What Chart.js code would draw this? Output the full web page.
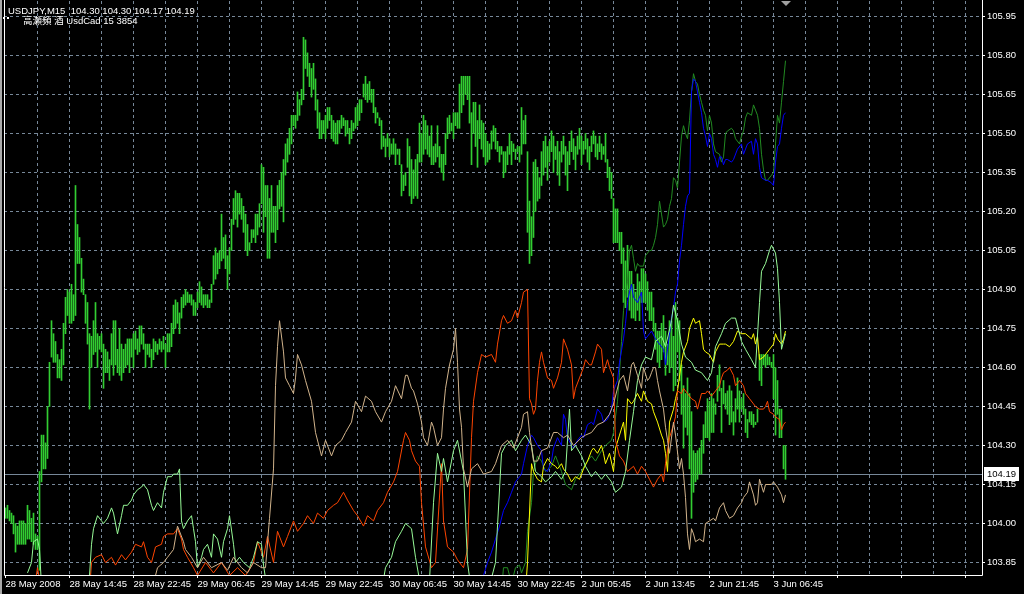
<!DOCTYPE html>
<html>
<head>
<meta charset="utf-8">
<script src="https://cdn.jsdelivr.net/npm/chart.js@4.4.1/dist/chart.umd.min.js"></script>
<style>
  html, body { margin: 0; padding: 0; background: #000; }
  canvas { display: block; }
</style>
</head>
<body>
<canvas id="chart" width="1024" height="594"></canvas>
<script>
// header texts
const symbolTitle = 'USDJPY,M15  104.30 104.30 104.17 104.19';
const indicatorTitle = '高瀬頻 酒 UsdCad 15 3854';
const lastPrice = 104.19;

// time axis labels, one every 32 bars (8 hours of M15)
const timeLabels = ['28 May 2008', '28 May 14:45', '28 May 22:45', '29 May 06:45', '29 May 14:45',
    '29 May 22:45', '30 May 06:45', '30 May 14:45', '30 May 22:45', '2 Jun 05:45', '2 Jun 13:45',
    '2 Jun 21:45', '3 Jun 06:45'];
const priceTicks = [103.85, 104.00, 104.15, 104.30, 104.45, 104.60, 104.75, 104.90, 105.05,
    105.20, 105.35, 105.50, 105.65, 105.80, 105.95];

// price bars, high / low
const barHigh = [
    104.06,104.07,104.05,104.04,104.03,104.00,103.99,104.01,104.01,104.01,
    104.00,104.07,104.05,104.02,104.04,103.96,103.95,104.20,104.34,104.34,
    104.31,104.45,104.62,104.78,104.73,104.70,104.65,104.63,104.67,104.77,
    104.87,104.90,104.89,104.92,104.88,105.30,105.15,105.10,105.02,104.94,
    104.88,104.85,104.73,104.72,104.78,104.85,104.73,104.72,104.73,104.69,
    104.67,104.66,104.63,104.73,104.78,104.78,104.67,104.75,104.69,104.67,
    104.69,104.71,104.71,104.71,104.73,104.74,104.71,104.76,104.76,104.73,
    104.69,104.69,104.69,104.67,104.71,104.70,104.69,104.71,104.70,104.72,
    104.69,104.73,104.73,104.77,104.84,104.86,104.85,104.81,104.87,104.88,
    104.90,104.89,104.88,104.88,104.86,104.85,104.89,104.93,104.91,104.88,
    104.88,104.88,104.86,104.92,105.03,105.06,105.04,105.05,105.19,105.10,
    105.11,105.03,105.06,105.17,105.25,105.28,105.27,105.27,105.25,105.22,
    105.19,105.15,105.08,105.13,105.13,105.19,105.19,105.23,105.38,105.37,
    105.30,105.30,105.25,105.30,105.22,105.22,105.30,105.32,105.35,105.40,
    105.46,105.48,105.52,105.57,105.57,105.57,105.66,105.63,105.67,105.87,
    105.86,105.81,105.77,105.75,105.77,105.71,105.63,105.58,105.55,105.55,
    105.57,105.60,105.60,105.57,105.55,105.54,105.55,105.55,105.57,105.56,
    105.55,105.55,105.52,105.55,105.54,105.60,105.61,105.63,105.63,105.69,
    105.72,105.69,105.70,105.67,105.67,105.60,105.58,105.56,105.55,105.49,
    105.48,105.50,105.48,105.46,105.48,105.46,105.44,105.44,105.38,105.34,
    105.35,105.48,105.45,105.40,105.36,105.40,105.42,105.54,105.50,105.57,
    105.55,105.53,105.49,105.53,105.45,105.46,105.53,105.45,105.42,105.42,
    105.50,105.56,105.57,105.54,105.58,105.58,105.58,105.69,105.72,105.72,
    105.72,105.72,105.72,105.58,105.62,105.62,105.55,105.61,105.55,105.54,
    105.50,105.47,105.46,105.51,105.53,105.52,105.47,105.45,105.45,105.43,
    105.43,105.45,105.50,105.47,105.46,105.44,105.45,105.45,105.60,105.55,
    105.57,105.43,105.24,105.18,105.39,105.40,105.37,105.33,105.43,105.47,
    105.49,105.45,105.47,105.51,105.49,105.45,105.47,105.43,105.47,105.49,
    105.45,105.43,105.47,105.51,105.48,105.45,105.49,105.52,105.49,105.47,
    105.50,105.48,105.45,105.49,105.51,105.49,105.46,105.49,105.46,105.45,
    105.50,105.40,105.37,105.35,105.25,105.21,105.21,105.12,105.12,105.06,
    105.01,105.07,104.97,104.97,104.92,104.89,104.96,104.93,104.98,104.98,
    104.96,104.93,104.89,104.89,104.83,104.77,104.74,104.74,104.77,104.80,
    104.74,104.69,104.78,104.78,104.72,104.85,104.79,104.78,104.61,104.53,
    104.50,104.56,104.50,104.43,104.28,104.27,104.28,104.29,104.32,104.38,
    104.43,104.48,104.47,104.50,104.48,104.46,104.57,104.61,104.52,104.55,
    104.50,104.51,104.53,104.51,104.43,104.48,104.56,104.51,104.48,104.50,
    104.44,104.40,104.43,104.43,104.42,104.39,104.44,104.65,104.65,104.65,
    104.65,104.65,104.64,104.62,104.65,104.60,104.55,104.44,104.44,104.30,
    104.30
];
const barLow = [
    104.02,104.02,104.01,104.00,103.96,103.89,103.92,103.92,103.92,103.92,
    103.92,103.94,103.94,103.93,103.92,103.90,103.90,103.82,104.16,104.21,
    104.21,104.25,104.45,104.64,104.62,104.62,104.56,104.56,104.55,104.61,
    104.73,104.80,104.77,104.77,104.78,104.80,105.00,105.00,104.89,104.88,
    104.77,104.69,104.44,104.60,104.65,104.66,104.60,104.67,104.66,104.52,
    104.58,104.58,104.55,104.61,104.57,104.61,104.58,104.57,104.55,104.58,
    104.60,104.61,104.58,104.64,104.60,104.67,104.65,104.66,104.69,104.67,
    104.60,104.65,104.64,104.60,104.63,104.66,104.65,104.67,104.66,104.67,
    104.60,104.66,104.66,104.68,104.73,104.75,104.77,104.73,104.79,104.83,
    104.84,104.85,104.85,104.84,104.80,104.80,104.83,104.85,104.84,104.83,
    104.84,104.83,104.83,104.85,104.92,104.94,104.96,104.98,105.01,105.02,
    104.98,104.90,104.96,105.05,105.15,105.17,105.14,105.19,105.17,105.12,
    105.05,105.03,105.05,105.08,105.10,105.08,105.11,105.14,105.23,105.12,
    105.18,105.02,105.02,105.12,105.12,105.08,105.13,105.21,105.22,105.16,
    105.34,105.39,105.42,105.46,105.53,105.52,105.55,105.57,105.61,105.63,
    105.75,105.72,105.68,105.64,105.67,105.59,105.52,105.48,105.48,105.50,
    105.48,105.52,105.55,105.48,105.47,105.46,105.46,105.50,105.52,105.53,
    105.49,105.50,105.46,105.48,105.51,105.52,105.53,105.55,105.58,105.64,
    105.63,105.62,105.63,105.62,105.58,105.54,105.56,105.53,105.44,105.45,
    105.41,105.45,105.41,105.42,105.42,105.38,105.42,105.38,105.26,105.28,
    105.30,105.37,105.26,105.23,105.25,105.26,105.25,105.39,105.39,105.42,
    105.44,105.42,105.41,105.38,105.38,105.39,105.41,105.37,105.35,105.32,
    105.38,105.48,105.50,105.51,105.48,105.53,105.52,105.52,105.58,105.61,
    105.65,105.63,105.54,105.38,105.50,105.45,105.37,105.48,105.44,105.41,
    105.38,105.39,105.40,105.44,105.47,105.44,105.43,105.39,105.42,105.33,
    105.35,105.38,105.42,105.38,105.43,105.40,105.43,105.39,105.42,105.46,
    105.46,105.12,105.00,105.03,105.10,105.20,105.24,105.25,105.30,105.34,
    105.37,105.32,105.39,105.43,105.35,105.40,105.34,105.30,105.39,105.42,
    105.34,105.28,105.38,105.43,105.40,105.36,105.42,105.44,105.38,105.42,
    105.44,105.39,105.36,105.43,105.46,105.41,105.40,105.43,105.40,105.42,
    105.39,105.33,105.28,105.25,105.08,105.08,105.08,105.05,105.00,104.85,
    104.83,104.87,104.82,104.79,104.79,104.78,104.82,104.78,104.85,104.85,
    104.85,104.82,104.78,104.78,104.74,104.67,104.62,104.60,104.63,104.66,
    104.57,104.61,104.58,104.60,104.51,104.53,104.66,104.55,104.42,104.29,
    104.37,104.34,104.21,104.02,104.12,104.16,104.17,104.19,104.19,104.27,
    104.33,104.33,104.32,104.35,104.35,104.42,104.47,104.51,104.35,104.46,
    104.44,104.42,104.38,104.39,104.34,104.39,104.44,104.39,104.44,104.42,
    104.35,104.33,104.39,104.38,104.37,104.38,104.39,104.55,104.53,104.61,
    104.60,104.61,104.61,104.60,104.48,104.34,104.42,104.33,104.33,104.21,
    104.17
];

// indicator lines: [bar number, value]
const paleLine = [[11,103.81],[13,103.85],[14,103.93],[16,103.94],[17,103.90],[18,103.76],[28,103.66],[40,103.70],[42,103.80],[43,103.92],[44,103.98],[46,104.03],[48,104.01],[49,104.00],[51,104.02],[53,104.06],[54,104.04],[56,103.96],[58,104.03],[59,104.07],[61,104.07],[63,104.09],[64,104.11],[66,104.13],[68,104.14],[69,104.15],[71,104.13],[73,104.07],[74,104.05],[76,104.08],[78,104.06],[79,104.12],[81,104.18],[83,104.18],[84,104.19],[86,104.19],[87,104.21],[88,104.01],[89,103.98],[91,104.01],[93,104.03],[94,103.98],[95,103.93],[96,103.83],[98,103.87],[99,103.90],[101,103.92],[103,103.87],[104,103.96],[106,103.94],[108,103.87],[109,103.93],[111,103.98],[112,104.03],[114,103.92],[115,103.85],[117,103.87],[119,103.85],[122,103.83],[124,103.87],[126,103.93],[128,103.92],[129,103.84],[131,103.74],[148,103.66],[172,103.66],[188,103.74],[190,103.83],[193,103.87],[195,103.93],[198,103.97],[200,104.00],[203,103.98],[205,103.87],[208,103.74],[212,103.78],[214,104.08],[216,104.27],[218,104.20],[219,104.25],[221,104.16],[223,104.24],[224,104.28],[226,104.32],[228,104.24],[229,104.20],[231,103.85],[233,103.74],[240,103.70],[245,103.85],[248,104.27],[250,104.30],[253,104.32],[255,104.28],[258,104.32],[260,104.34],[263,104.30],[265,104.20],[268,104.18],[270,104.16],[273,104.18],[275,104.20],[278,104.17],[280,104.20],[282,104.44],[283,104.28],[285,104.30],[288,104.26],[290,104.22],[293,104.18],[295,104.20],[298,104.17],[300,104.19],[303,104.16],[305,104.12],[308,104.14],[310,104.20],[312,104.32],[314,104.43],[316,104.55],[318,104.61],[320,104.64],[323,104.63],[325,104.70],[328,104.72],[330,104.68],[333,104.78],[334,104.84],[336,104.78],[338,104.69],[340,104.64],[343,104.62],[345,104.59],[348,104.58],[351,104.55],[353,104.58],[355,104.68],[358,104.73],[360,104.77],[363,104.79],[365,104.79],[368,104.70],[370,104.67],[373,104.63],[375,104.60],[377,104.85],[378,104.97],[380,105.00],[382,105.05],[383,105.07],[385,105.04],[386,104.98],[387,104.85],[388,104.67],[389,104.70],[390,104.73]];

const orangeLine = [[15,103.78],[16,103.83],[18,103.74],[42,103.74],[43,103.85],[45,103.87],[48,103.88],[50,103.85],[53,103.87],[55,103.84],[58,103.88],[60,103.86],[63,103.89],[65,103.92],[68,103.91],[69,103.93],[71,103.87],[73,103.85],[75,103.91],[78,103.92],[79,103.95],[81,103.96],[84,103.96],[86,103.98],[88,103.94],[89,103.90],[91,103.87],[94,103.83],[96,103.80],[100,103.85],[104,103.81],[108,103.85],[112,103.80],[116,103.83],[120,103.80],[124,103.85],[126,103.93],[129,103.87],[131,103.95],[134,103.85],[136,103.97],[139,103.91],[141,103.95],[144,104.01],[146,103.97],[149,104.00],[151,104.03],[154,104.00],[156,104.04],[159,104.02],[161,104.05],[164,104.07],[166,104.08],[169,104.12],[171,104.09],[174,104.05],[176,104.03],[179,103.99],[181,104.03],[184,104.01],[186,104.05],[189,104.08],[191,104.12],[194,104.16],[196,104.20],[199,104.32],[200,104.35],[202,104.32],[203,104.28],[205,104.24],[207,104.22],[208,104.08],[210,103.91],[213,103.83],[215,103.85],[218,104.23],[219,104.01],[221,103.91],[224,103.89],[226,103.86],[229,103.83],[231,103.90],[233,104.33],[234,104.47],[236,104.58],[238,104.65],[240,104.64],[243,104.65],[245,104.62],[246,104.69],[248,104.78],[249,104.80],[251,104.77],[253,104.78],[255,104.82],[256,104.79],[258,104.85],[259,104.89],[261,104.90],[262,104.48],[263,104.46],[264,104.42],[265,104.44],[266,104.55],[267,104.62],[268,104.66],[269,104.62],[271,104.56],[273,104.55],[274,104.52],[276,104.56],[278,104.62],[279,104.71],[281,104.67],[283,104.61],[284,104.48],[285,104.52],[287,104.56],[289,104.60],[290,104.63],[292,104.61],[293,104.61],[295,104.66],[296,104.69],[298,104.67],[299,104.58],[301,104.63],[302,104.60],[304,104.56],[305,104.32],[307,104.26],[309,104.24],[311,104.20],[314,104.22],[316,104.19],[318,104.22],[320,104.20],[322,104.17],[324,104.14],[326,104.17],[328,104.19],[329,104.16],[330,104.23],[332,104.33],[334,104.38],[335,104.41],[336,104.51],[338,104.50],[339,104.52],[341,104.50],[343,104.48],[345,104.47],[346,104.44],[348,104.50],[350,104.50],[351,104.51],[353,104.49],[355,104.51],[357,104.53],[358,104.56],[359,104.58],[361,104.59],[362,104.60],[364,104.57],[365,104.53],[367,104.55],[369,104.53],[370,104.50],[372,104.48],[374,104.46],[375,104.45],[377,104.44],[379,104.44],[380,104.45],[381,104.47],[382,104.43],[384,104.42],[385,104.41],[387,104.40],[388,104.36],[389,104.38],[390,104.39]];

const tanLine = [[73,103.74],[76,103.83],[79,103.85],[81,103.87],[84,103.90],[86,103.99],[89,103.93],[90,103.90],[93,103.87],[96,103.83],[99,103.87],[103,103.83],[108,103.85],[111,103.82],[114,103.87],[118,103.83],[121,103.81],[124,103.85],[128,103.83],[130,103.83],[132,104.02],[134,104.21],[135,104.53],[136,104.68],[137,104.78],[139,104.66],[140,104.56],[142,104.53],[144,104.50],[145,104.56],[146,104.65],[148,104.61],[150,104.55],[153,104.47],[155,104.35],[158,104.26],[160,104.32],[163,104.26],[165,104.30],[168,104.32],[170,104.35],[173,104.39],[175,104.47],[178,104.43],[180,104.49],[183,104.47],[185,104.43],[188,104.39],[190,104.43],[193,104.47],[195,104.53],[198,104.48],[200,104.57],[201,104.57],[203,104.52],[204,104.51],[206,104.46],[208,104.39],[209,104.33],[211,104.30],[213,104.39],[214,104.37],[216,104.30],[218,104.33],[219,104.44],[220,104.52],[222,104.61],[224,104.67],[225,104.75],[226,104.62],[227,104.44],[228,104.37],[229,104.21],[231,104.14],[233,104.21],[236,104.23],[239,104.19],[243,104.20],[245,104.23],[248,104.30],[251,104.32],[254,104.29],[258,104.37],[259,104.42],[261,104.43],[262,104.35],[264,104.24],[266,104.24],[268,104.28],[271,104.29],[274,104.35],[276,104.35],[279,104.33],[281,104.34],[284,104.30],[288,104.33],[290,104.34],[293,104.35],[296,104.38],[299,104.39],[302,104.42],[304,104.46],[307,104.55],[309,104.57],[311,104.51],[313,104.61],[314,104.62],[316,104.57],[318,104.52],[319,104.60],[321,104.55],[322,104.56],[323,104.58],[324,104.60],[325,104.60],[326,104.55],[327,104.51],[329,104.44],[330,104.37],[331,104.32],[332,104.27],[334,104.39],[335,104.34],[337,104.21],[338,104.25],[339,104.19],[340,104.10],[341,103.96],[342,103.90],[343,103.98],[344,103.96],[345,103.93],[347,103.94],[349,103.93],[350,104.00],[352,104.01],[354,104.02],[355,104.01],[357,104.06],[359,104.08],[360,104.05],[362,104.02],[364,104.03],[366,104.06],[368,104.08],[369,104.10],[371,104.12],[372,104.16],[374,104.11],[375,104.07],[376,104.08],[377,104.17],[379,104.12],[380,104.15],[383,104.15],[384,104.16],[386,104.14],[388,104.11],[389,104.08],[390,104.11]];

const yellowLine = [[260,103.74],[261,103.85],[263,104.23],[264,104.20],[266,104.17],[268,104.16],[269,104.22],[271,104.25],[273,104.23],[275,104.22],[276,104.21],[278,104.23],[279,104.21],[281,104.19],[283,104.16],[285,104.18],[287,104.17],[289,104.21],[291,104.24],[293,104.28],[294,104.29],[296,104.27],[298,104.30],[299,104.27],[300,104.23],[302,104.27],[304,104.20],[305,104.29],[307,104.34],[309,104.39],[310,104.32],[311,104.48],[313,104.46],[314,104.47],[316,104.50],[318,104.47],[319,104.51],[321,104.47],[323,104.46],[324,104.43],[326,104.39],[328,104.34],[329,104.32],[330,104.27],[331,104.20],[332,104.39],[334,104.44],[335,104.48],[336,104.51],[338,104.62],[339,104.66],[341,104.70],[342,104.75],[344,104.79],[345,104.77],[347,104.78],[348,104.73],[349,104.67],[350,104.66],[352,104.65],[354,104.62],[355,104.66],[357,104.69],[359,104.69],[360,104.69],[362,104.68],[364,104.70],[366,104.74],[368,104.73],[370,104.73],[373,104.71],[374,104.73],[375,104.69],[376,104.72],[377,104.63],[379,104.64],[380,104.65],[382,104.67],[384,104.69],[385,104.73],[386,104.71],[388,104.69],[389,104.71],[390,104.74]];

const blueLine = [[237,103.74],[239,103.80],[241,103.85],[243,103.89],[245,103.94],[247,103.99],[249,104.05],[251,104.08],[253,104.12],[255,104.16],[257,104.18],[258,104.19],[259,104.23],[261,104.30],[263,104.34],[264,104.33],[266,104.30],[268,104.28],[269,104.21],[271,104.20],[273,104.24],[274,104.29],[276,104.33],[278,104.30],[279,104.42],[280,104.40],[281,104.33],[283,104.30],[284,104.29],[286,104.32],[288,104.34],[289,104.33],[291,104.38],[293,104.39],[294,104.38],[296,104.44],[298,104.42],[299,104.39],[301,104.40],[303,104.44],[304,104.51],[306,104.55],[307,104.62],[309,104.71],[310,104.77],[311,104.85],[312,104.89],[313,104.92],[314,104.87],[316,104.85],[318,104.89],[319,104.74],[320,104.71],[322,104.73],[323,104.74],[325,104.71],[327,104.69],[329,104.67],[330,104.61],[331,104.67],[333,104.79],[334,104.83],[335,104.89],[336,104.92],[337,105.01],[338,105.07],[339,105.15],[340,105.22],[341,105.26],[342,105.27],[343,105.66],[344,105.71],[345,105.70],[346,105.66],[347,105.62],[348,105.58],[349,105.52],[350,105.49],[351,105.45],[352,105.50],[353,105.48],[354,105.42],[355,105.40],[356,105.37],[357,105.41],[358,105.41],[359,105.38],[360,105.40],[361,105.40],[363,105.39],[364,105.40],[366,105.44],[368,105.46],[369,105.42],[371,105.46],[373,105.47],[374,105.42],[375,105.48],[376,105.46],[377,105.37],[378,105.33],[380,105.32],[381,105.32],[383,105.31],[384,105.30],[385,105.39],[386,105.45],[387,105.46],[388,105.52],[389,105.57],[390,105.58]];

const greenLine = [[248,103.74],[249,103.83],[251,103.83],[252,103.80],[254,103.80],[255,103.83],[257,103.84],[258,103.81],[260,103.85],[261,103.97],[263,104.08],[264,104.20],[266,104.26],[268,104.24],[270,104.20],[273,104.22],[275,104.26],[278,104.20],[280,104.15],[283,104.13],[285,104.17],[288,104.20],[290,104.23],[293,104.26],[295,104.24],[298,104.28],[300,104.30],[303,104.32],[304,104.35],[306,104.47],[307,104.58],[308,104.70],[309,104.82],[310,104.89],[311,104.93],[312,105.05],[313,105.07],[314,105.02],[315,104.97],[316,105.00],[317,104.99],[319,104.99],[320,105.03],[322,105.05],[323,105.05],[324,105.07],[325,105.10],[326,105.15],[327,105.24],[328,105.19],[329,105.14],[330,105.15],[331,105.17],[332,105.22],[333,105.25],[334,105.33],[335,105.32],[336,105.29],[337,105.39],[338,105.49],[339,105.53],[340,105.50],[341,105.48],[342,105.55],[343,105.66],[344,105.73],[345,105.70],[346,105.69],[347,105.65],[348,105.62],[349,105.59],[350,105.57],[351,105.51],[352,105.57],[353,105.54],[354,105.46],[355,105.43],[357,105.42],[358,105.39],[359,105.41],[360,105.50],[361,105.51],[363,105.52],[364,105.51],[365,105.48],[367,105.46],[368,105.49],[369,105.51],[370,105.56],[371,105.58],[373,105.57],[374,105.61],[375,105.59],[376,105.57],[377,105.52],[378,105.42],[379,105.36],[380,105.32],[381,105.32],[383,105.34],[384,105.35],[385,105.46],[386,105.57],[387,105.54],[388,105.62],[389,105.70],[390,105.78]];

const GRID_COLOR = '#778899';
const AXIS_FONT = { family: 'Liberation Sans', size: 9.5 };

function toPoints(pairs) {
    return pairs.map(([x, y]) => ({ x, y }));
}

function lineSet(pairs, color) {
    return {
        type: 'line',
        data: toPoints(pairs),
        borderColor: color,
        borderWidth: 1,
        pointRadius: 0,
        tension: 0,
        order: 1
    };
}

// background, frame, price marker, header text
const chartDecor = {
    id: 'chartDecor',
    beforeDraw(chart) {
        const { ctx, width, height } = chart;
        ctx.save();
        ctx.fillStyle = '#000';
        ctx.fillRect(0, 0, width, height);
        ctx.fillStyle = '#a8a8a8';
        ctx.fillRect(0, 0, 2, height);
        ctx.restore();
    },
    beforeDatasetsDraw(chart) {
        const { ctx, chartArea, scales } = chart;
        const y = Math.round(scales.y.getPixelForValue(lastPrice)) + 0.5;
        ctx.save();
        ctx.strokeStyle = GRID_COLOR;
        ctx.lineWidth = 1;
        ctx.beginPath();
        ctx.moveTo(chartArea.left, y);
        ctx.lineTo(chartArea.right, y);
        ctx.stroke();
        ctx.restore();
    },
    afterDraw(chart) {
        const { ctx, chartArea, scales } = chart;
        ctx.save();
        // frame: left, right, bottom
        ctx.strokeStyle = '#fff';
        ctx.lineWidth = 1;
        ctx.beginPath();
        ctx.moveTo(chartArea.left + 0.5, 0);
        ctx.lineTo(chartArea.left + 0.5, chartArea.bottom + 0.5);
        ctx.lineTo(chartArea.right + 0.5, chartArea.bottom + 0.5);
        ctx.lineTo(chartArea.right + 0.5, 0);
        ctx.stroke();

        // current price box
        const y = Math.round(scales.y.getPixelForValue(lastPrice));
        ctx.fillStyle = '#fff';
        ctx.fillRect(chartArea.right + 2, y - 7, 35, 14);
        ctx.fillStyle = '#000';
        ctx.font = '9.5px "Liberation Sans"';
        ctx.textBaseline = 'middle';
        ctx.fillText(lastPrice.toFixed(2), chartArea.right + 5, y + 0.5);

        // header lines
        ctx.fillStyle = '#fff';
        ctx.textBaseline = 'alphabetic';
        ctx.fillText(symbolTitle, 8, 14);
        ctx.fillRect(3, 17, 2, 2);
        ctx.fillRect(7, 17, 2, 2);
        ctx.font = '9.5px "Liberation Sans", "Noto Sans CJK JP"';
        ctx.fillText(indicatorTitle, 23, 24);

        // chart shift marker
        ctx.fillStyle = '#a0a0a0';
        ctx.beginPath();
        ctx.moveTo(781, 1);
        ctx.lineTo(791, 1);
        ctx.lineTo(786, 6);
        ctx.closePath();
        ctx.fill();
        ctx.restore();
    }
};

new Chart(document.getElementById('chart'), {
    type: 'bar',
    data: {
        datasets: [
            lineSet(tanLine, '#D2B48C'),
            lineSet(paleLine, '#98FB98'),
            lineSet(orangeLine, '#FF4500'),
            lineSet(yellowLine, '#FFFF00'),
            lineSet(blueLine, '#0000FF'),
            lineSet(greenLine, '#228B22'),
            {
                type: 'bar',
                data: barHigh.map((h, i) => ({ x: i, y: [barLow[i], h] })),
                backgroundColor: '#32CD32',
                borderWidth: 0,
                barThickness: 1,
                grouped: false,
                order: 10
            }
        ]
    },
    options: {
        responsive: false,
        animation: false,
        devicePixelRatio: 1,
        layout: { padding: { left: 4, top: 1, right: 0, bottom: 0 } },
        plugins: {
            legend: { display: false },
            tooltip: { enabled: false }
        },
        scales: {
            x: {
                type: 'linear',
                position: 'bottom',
                min: -0.75,
                max: 488.25,
                offset: false,
                afterBuildTicks: (scale) => {
                    const ticks = [];
                    for (let v = 0; v <= 480; v += 16) ticks.push({ value: v });
                    scale.ticks = ticks;
                },
                afterFit: (scale) => {
                    scale.height = 19;
                    scale.paddingLeft = 0;
                    scale.paddingRight = 0;
                },
                border: { display: false, dash: [3, 3] },
                grid: {
                    offset: false,
                    color: (ctx) => (ctx.tick && ctx.tick.value === 0 ? 'rgba(0,0,0,0)' : GRID_COLOR),
                    tickColor: (ctx) => (ctx.tick && ctx.tick.value % 32 === 0 ? '#fff' : 'rgba(0,0,0,0)'),
                    tickLength: 3
                },
                ticks: {
                    autoSkip: false,
                    maxRotation: 0,
                    minRotation: 0,
                    align: 'start',
                    padding: 1,
                    color: '#fff',
                    font: AXIS_FONT,
                    callback: (value) => (value % 32 === 0 ? (timeLabels[value / 32] || '') : '')
                }
            },
            y: {
                position: 'right',
                min: 103.8019,
                max: 106.0096,
                afterBuildTicks: (scale) => {
                    scale.ticks = priceTicks.map(v => ({ value: v }));
                },
                afterFit: (scale) => {
                    scale.width = 42;
                    scale.paddingTop = 0;
                    scale.paddingBottom = 0;
                },
                border: { display: false, dash: [3, 3] },
                grid: {
                    color: GRID_COLOR,
                    tickColor: '#fff',
                    tickLength: 3
                },
                ticks: {
                    padding: 2,
                    color: '#fff',
                    font: AXIS_FONT,
                    callback: (value) => Number(value).toFixed(2)
                }
            }
        }
    },
    plugins: [chartDecor]
});
</script>
</body>
</html>
